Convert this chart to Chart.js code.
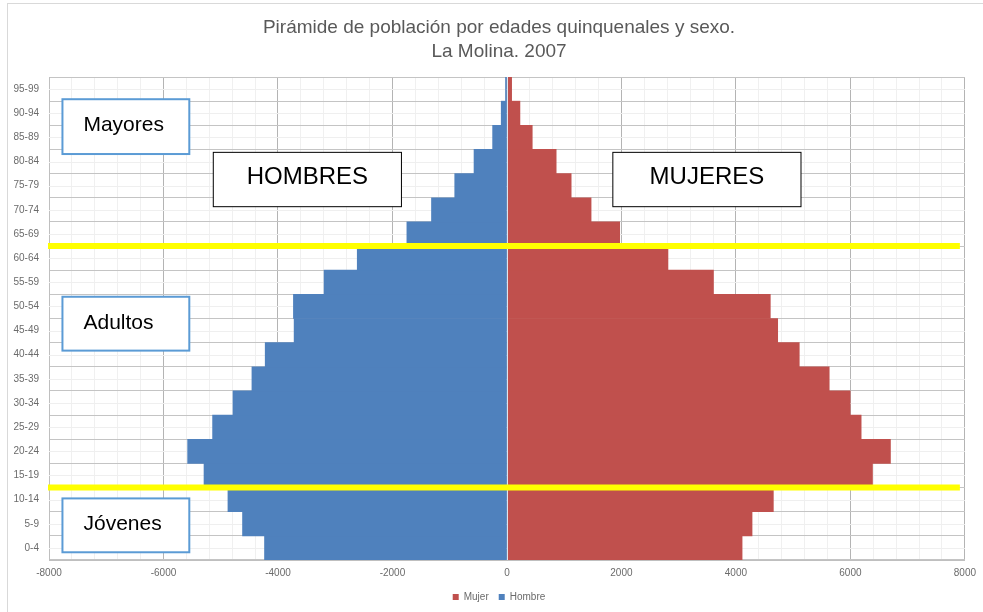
<!DOCTYPE html>
<html>
<head>
<meta charset="utf-8">
<script src="https://cdn.jsdelivr.net/npm/chart.js@4.4.0/dist/chart.umd.min.js"></script>
<style>
  html, body { margin: 0; padding: 0; background: #fff; }
  #wrap { width: 983px; height: 612px; position: relative; }
</style>
</head>
<body>
<div id="wrap"><canvas id="pyramid"></canvas></div>
<script>
// Grupos quinquenales, de abajo hacia arriba
const ageGroups = ['0-4', '5-9', '10-14', '15-19', '20-24', '25-29', '30-34', '35-39', '40-44', '45-49',
    '50-54', '55-59', '60-64', '65-69', '70-74', '75-79', '80-84', '85-89', '90-94', '95-99'];

// Hombres en negativo para que salgan a la izquierda
const hombre = [-4235, -4619, -4874, -5292, -5578, -5142, -4786, -4455, -4223, -3718,
    -3730, -3195, -2615, -1748, -1318, -912, -575, -250, -100, -25];
const mujer = [4108, 4282, 4654, 6386, 6700, 6188, 5996, 5630, 5107, 4730,
    4601, 3608, 2813, 1970, 1470, 1122, 860, 442, 227, 82];

const xTickLabels = [-8000, -6000, -4000, -2000, 0, 2000, 4000, 6000, 8000];
const titleLines = ['Pirámide de población por edades quinquenales y sexo.', 'La Molina. 2007'];
const groupNames = ['Mayores', 'Adultos', 'Jóvenes'];
const sexNames = ['HOMBRES', 'MUJERES'];

const AXIS_FONT = { family: 'Liberation Sans, Arial, sans-serif', size: 10 };
const TEXT_GRAY = '#6b6b6b';

// Cuadros de texto, en unidades del eje x y del indice de categoria
const boxes = [
    { text: groupNames[0], x0: -7765, x1: -5549, y0: 18.58, y1: 16.31, color: '#5b9bd5', lw: 2, size: 21, align: 'left' },
    { text: groupNames[1], x0: -7765, x1: -5549, y0: 10.40, y1: 8.17, color: '#5b9bd5', lw: 2, size: 21, align: 'left' },
    { text: groupNames[2], x0: -7765, x1: -5549, y0: 2.05, y1: -0.18, color: '#5b9bd5', lw: 2, size: 21, align: 'left' },
    { text: sexNames[0], x0: -5130, x1: -1843, y0: 16.38, y1: 14.13, color: '#000', lw: 1, size: 24, align: 'center' },
    { text: sexNames[1], x0: 1850, x1: 5137, y0: 16.38, y1: 14.13, color: '#000', lw: 1, size: 24, align: 'center' }
];

const decorPlugin = {
    id: 'decor',
    afterLayout(chart) {
        // Excel centra titulo y leyenda en todo el area del grafico
        [chart.titleBlock, chart.legend].forEach(b => {
            if (b) { b.left += 15; b.right += 15; }
        });
    },
    beforeDraw(chart) {
        const ctx = chart.ctx;
        ctx.save();
        ctx.fillStyle = '#fff';
        ctx.fillRect(0, 0, chart.width, chart.height);
        ctx.strokeStyle = '#d9d9d9';
        ctx.lineWidth = 1;
        ctx.strokeRect(7.5, 3.5, chart.width, chart.height);
        ctx.restore();
    },
    beforeDatasetsDraw(chart) {
        // lineas menores horizontales en el centro de cada categoria
        const { ctx, chartArea, scales } = chart;
        ctx.save();
        ctx.strokeStyle = '#efefef';
        ctx.lineWidth = 1;
        ageGroups.forEach((g, i) => {
            const y = Math.round(scales.y.getPixelForValue(i)) + 0.5;
            ctx.beginPath();
            ctx.moveTo(chartArea.left, y);
            ctx.lineTo(chartArea.right, y);
            ctx.stroke();
        });
        ctx.restore();
    },
    afterDatasetsDraw(chart) {
        const { ctx, chartArea, scales } = chart;
        ctx.save();
        // linea del cero
        const x0 = Math.round(scales.x.getPixelForValue(0)) + 0.5;
        ctx.strokeStyle = '#dde5f0';
        ctx.lineWidth = 1;
        ctx.beginPath();
        ctx.moveTo(x0, chartArea.top);
        ctx.lineTo(x0, chartArea.bottom);
        ctx.stroke();

        // lineas amarillas entre grupos de edad (60-64 / 65-69 y 10-14 / 15-19)
        ctx.strokeStyle = '#ffff00';
        ctx.lineWidth = 6;
        [12.5, 2.5].forEach(v => {
            const y = scales.y.getPixelForValue(v);
            ctx.beginPath();
            ctx.moveTo(chartArea.left - 1, y);
            ctx.lineTo(chartArea.right - 5, y);
            ctx.stroke();
        });

        // cuadros de texto
        boxes.forEach(b => {
            const left = scales.x.getPixelForValue(b.x0);
            const right = scales.x.getPixelForValue(b.x1);
            const top = scales.y.getPixelForValue(b.y0);
            const bottom = scales.y.getPixelForValue(b.y1);
            ctx.fillStyle = '#fff';
            ctx.fillRect(left, top, right - left, bottom - top);
            ctx.strokeStyle = b.color;
            ctx.lineWidth = b.lw;
            ctx.strokeRect(left, top, right - left, bottom - top);
            ctx.fillStyle = '#000';
            ctx.font = b.size + 'px "Liberation Sans", Arial, sans-serif';
            ctx.textBaseline = 'alphabetic';
            ctx.textAlign = b.align;
            const tx = b.align === 'center' ? (left + right) / 2 : left + 21;
            ctx.fillText(b.text, tx, top + 32);
        });
        ctx.restore();
    }
};

new Chart(document.getElementById('pyramid'), {
    type: 'bar',
    data: {
        labels: ageGroups,
        datasets: [
            {
                label: 'Mujer',
                data: mujer,
                backgroundColor: '#c0504d',
                borderWidth: 0,
                barPercentage: 1,
                categoryPercentage: 1
            },
            {
                label: 'Hombre',
                data: hombre,
                backgroundColor: '#4f81bd',
                borderWidth: 0,
                barPercentage: 1,
                categoryPercentage: 1
            }
        ]
    },
    options: {
        indexAxis: 'y',
        responsive: true,
        maintainAspectRatio: false,
        animation: false,
        layout: { padding: { left: 0, right: 15, top: 0, bottom: 0 } },
        scales: {
            x: {
                stacked: true,
                min: xTickLabels[0],
                max: xTickLabels[xTickLabels.length - 1],
                ticks: {
                    stepSize: 400,
                    autoSkip: false,
                    maxRotation: 0,
                    padding: 7,
                    color: TEXT_GRAY,
                    font: AXIS_FONT,
                    callback: v => xTickLabels.includes(v) ? String(v) : ''
                },
                grid: {
                    drawTicks: false,
                    color: c => xTickLabels.includes(c.tick.value) ? '#b4b4b4' : '#f0f0f0'
                },
                border: { color: '#bfbfbf' },
                afterFit(scale) { scale.height = 22; }
            },
            y: {
                stacked: true,
                reverse: true,
                ticks: {
                    padding: 10,
                    color: TEXT_GRAY,
                    font: AXIS_FONT
                },
                grid: {
                    drawTicks: false,
                    color: '#c4c4c4'
                },
                border: { color: '#bfbfbf' },
                afterFit(scale) { scale.width = 49; }
            }
        },
        plugins: {
            title: {
                display: true,
                text: titleLines,
                color: '#595959',
                font: { family: 'Liberation Sans, Arial, sans-serif', size: 19, weight: 'normal', lineHeight: 24 / 19 },
                padding: { top: 16, bottom: 13 }
            },
            legend: {
                position: 'bottom',
                labels: {
                    boxWidth: 6,
                    boxHeight: 6,
                    padding: 10,
                    color: TEXT_GRAY,
                    font: { family: 'Liberation Sans, Arial, sans-serif', size: 10 }
                }
            },
            tooltip: { enabled: false }
        }
    },
    plugins: [decorPlugin]
});
</script>
</body>
</html>
